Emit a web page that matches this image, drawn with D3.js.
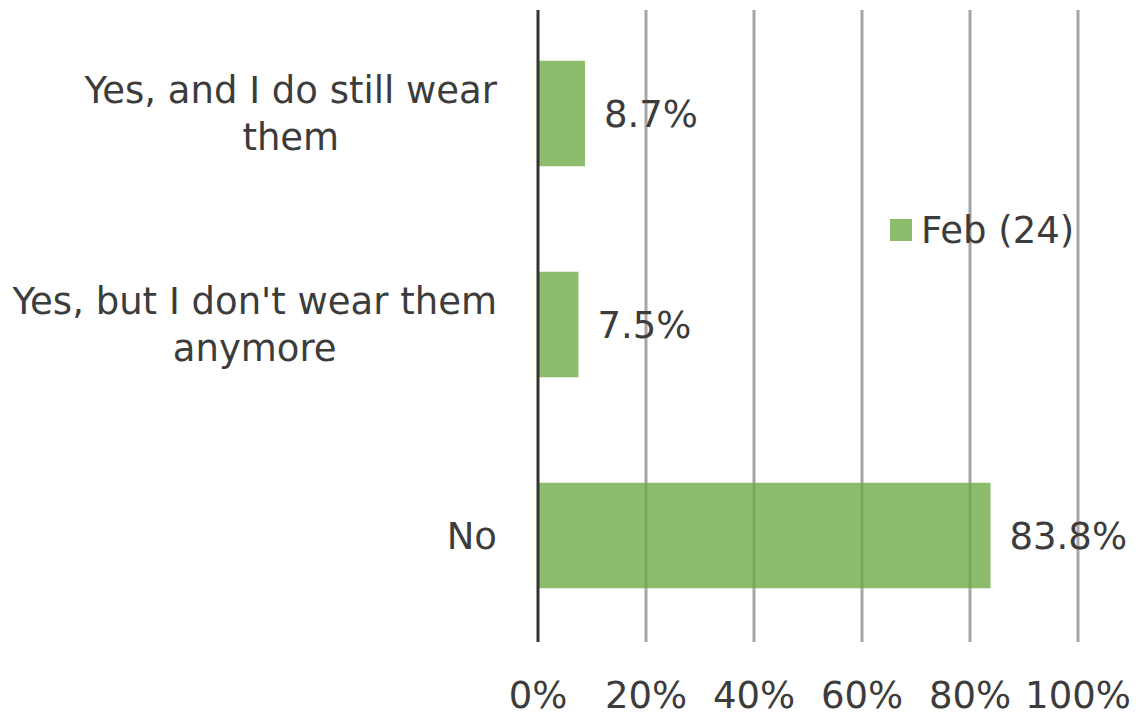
<!DOCTYPE html>
<html>
<head>
<meta charset="utf-8">
<script src="https://cdn.jsdelivr.net/npm/d3@7"></script>
<style>
  html, body { margin: 0; padding: 0; background: #fff; }
  svg text { font-family: "DejaVu Sans", Verdana, sans-serif; fill: #3c3c3c; }
</style>
</head>
<body>
<svg id="chart" width="1136" height="717"></svg>
<script>
// Survey answers, top to bottom, each split into its wrapped display lines
const categories = ["Yes, and I do still wear them", "Yes, but I don't wear them anymore", "No"];
const categoryLines = [["Yes, and I do still wear", "them"], ["Yes, but I don't wear them", "anymore"], ["No"]];
const values = [8.7, 7.5, 83.8];
const seriesName = "Feb (24)";
const tickValues = [0, 20, 40, 60, 80, 100];

const svg = d3.select("#chart");
const fontSize = 37;

const plot = { left: 538, right: 1078, top: 10, bottom: 642 };

const x = d3.scaleLinear().domain([0, 100]).range([plot.left, plot.right]);
const y = d3.scaleBand().domain(categories).range([8, 641]).paddingInner(0.5).paddingOuter(0.25);

// vertical gridlines
svg.append("g").selectAll("line")
  .data(tickValues.filter(d => d > 0))
  .join("line")
  .attr("x1", d => x(d)).attr("x2", d => x(d))
  .attr("y1", plot.top).attr("y2", plot.bottom)
  .attr("stroke", "#a6a6a6").attr("stroke-width", 3);

// bars
svg.append("g").selectAll("rect")
  .data(values)
  .join("rect")
  .attr("x", x(0))
  .attr("y", (d, i) => y(categories[i]))
  .attr("width", d => x(d) - x(0))
  .attr("height", y.bandwidth())
  .attr("fill", "#70ad47")
  .attr("fill-opacity", 0.8);

// category axis line
svg.append("line")
  .attr("x1", x(0)).attr("x2", x(0))
  .attr("y1", plot.top).attr("y2", plot.bottom)
  .attr("stroke", "#333").attr("stroke-width", 3);

// value labels
svg.append("g").selectAll("text")
  .data(values)
  .join("text")
  .attr("x", d => x(d) + 19)
  .attr("y", (d, i) => y(categories[i]) + y.bandwidth() / 2)
  .attr("dy", "0.36em")
  .attr("font-size", fontSize)
  .text(d => d.toFixed(1) + "%");

// category labels: block right-aligned to the axis, lines centred inside it
const labelRight = 497;
const lineGap = 47;
categories.forEach((c, i) => {
  const lines = categoryLines[i];
  const g = svg.append("g");
  const texts = lines.map(l => g.append("text").attr("font-size", fontSize).text(l));
  const widths = texts.map(t => t.node().getComputedTextLength());
  const maxW = d3.max(widths);
  const cy = y(c) + y.bandwidth() / 2;
  const top = cy - (lines.length - 1) * lineGap / 2;
  texts.forEach((t, j) => {
    t.attr("x", labelRight - maxW / 2)
     .attr("text-anchor", "middle")
     .attr("y", top + j * lineGap)
     .attr("dy", "0.36em");
  });
});

// percentage tick labels
svg.append("g").selectAll("text")
  .data(tickValues)
  .join("text")
  .attr("x", d => x(d))
  .attr("y", 708)
  .attr("text-anchor", "middle")
  .attr("font-size", fontSize)
  .text(d => d + "%");

// legend
const legend = svg.append("g");
legend.append("rect")
  .attr("x", 890).attr("y", 219).attr("width", 22).attr("height", 22)
  .attr("fill", "#70ad47").attr("fill-opacity", 0.8);
legend.append("text")
  .attr("x", 921).attr("y", 230).attr("dy", "0.36em")
  .attr("font-size", fontSize)
  .text(seriesName);
</script>
</body>
</html>
